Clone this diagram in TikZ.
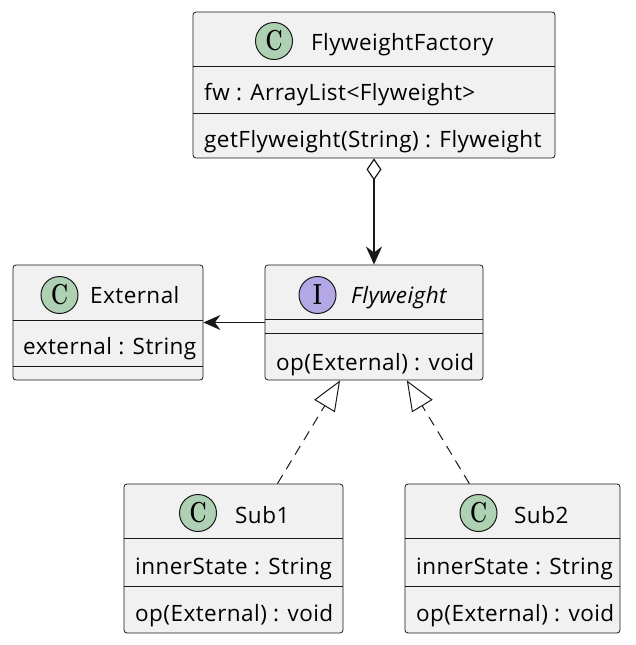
\documentclass[tikz,border=0pt]{standalone}
\usepackage{fontspec}
\newfontfamily\umlfont[LetterSpace=2]{Open Sans}
\usetikzlibrary{arrows.meta,calc}
\definecolor{umlFill}{RGB}{241,241,241}
\definecolor{umlLine}{RGB}{24,24,24}
\definecolor{umlClass}{RGB}{173,209,178}
\definecolor{umlIface}{RGB}{180,167,229}

\begin{document}
\begin{tikzpicture}[
    x=1pt, y=-1pt,
    cls/.style={
        draw=umlLine, fill=umlFill, line width=0.8pt, rounded corners=3pt, inner sep=0pt
    },
    badge/.style={
        circle, draw=umlLine, line width=1pt, minimum size=37pt, inner sep=0pt,
        font=\rmfamily\bfseries\fontsize{29}{29}\selectfont
    },
    txt/.style={anchor=base west, inner sep=0pt, font=\umlfont\fontsize{22.5}{26}\selectfont},
    sep/.style={draw=umlLine, line width=0.8pt},
    has/.style={{Diamond[fill=white,length=22pt,width=15pt]}-{Stealth[length=18pt,width=16pt]}, line width=1.2pt, draw=umlLine},
    uses/.style={-{Stealth[length=17pt,width=15pt]}, line width=1.2pt, draw=umlLine},
    realize/.style={-{Triangle[fill=white,length=30pt,width=24pt]}, dash pattern=on 10pt off 7pt, line width=1pt, draw=umlLine}
]
    \useasboundingbox (0,0) rectangle (636,645);

    \node[cls, minimum width=362pt, minimum height=146pt] (fac) at (374,85) {};
    \node[badge, fill=umlClass] (facC) at (274,41) {\scalebox{0.72}[1]{C}};
    \node[txt] (facT) at (311,50) {FlyweightFactory};
    \node[txt] (facA) at (204,100) {fw : ArrayList<Flyweight>};
    \node[txt] (facM) at (204,147) {getFlyweight(String) : Flyweight};
    \draw[sep] ([yshift=-55pt]fac.north west) -- ([yshift=-55pt]fac.north east);
    \draw[sep] ([yshift=-102pt]fac.north west) -- ([yshift=-102pt]fac.north east);

    \node[cls, minimum width=190pt, minimum height=115pt] (ext) at (108,322.5) {};
    \node[badge, fill=umlClass] (extC) at (59.5,295) {\scalebox{0.72}[1]{C}};
    \node[txt] (extT) at (90,303) {External};
    \node[txt] (extA) at (23,354) {external : String};
    \draw[sep] ([yshift=-56pt]ext.north west) -- ([yshift=-56pt]ext.north east);
    \draw[sep] ([yshift=-102pt]ext.north west) -- ([yshift=-102pt]ext.north east);

    \node[cls, minimum width=218pt, minimum height=115pt] (fw) at (374,322.5) {};
    \node[badge, fill=umlIface] (fwI) at (317.5,295) {\scalebox{0.72}[1]{I}};
    \node[txt] (fwT) at (351,303) {\itshape Flyweight};
    \node[txt] (fwM) at (276,370) {op(External) : void};
    \draw[sep] ([yshift=-55pt]fw.north west) -- ([yshift=-55pt]fw.north east);
    \draw[sep] ([yshift=-69pt]fw.north west) -- ([yshift=-69pt]fw.north east);

    \node[cls, minimum width=219pt, minimum height=149pt] (sub1) at (233.5,558.5) {};
    \node[badge, fill=umlClass] (sub1C) at (198,513) {\scalebox{0.72}[1]{C}};
    \node[txt] (sub1T) at (235,523) {Sub1};
    \node[txt] (sub1A) at (135,574) {innerState : String};
    \node[txt] (sub1M) at (135,621) {op(External) : void};
    \draw[sep] ([yshift=-55pt]sub1.north west) -- ([yshift=-55pt]sub1.north east);
    \draw[sep] ([yshift=-103pt]sub1.north west) -- ([yshift=-103pt]sub1.north east);

    \node[cls, minimum width=215pt, minimum height=149pt] (sub2) at (512.5,558.5) {};
    \node[badge, fill=umlClass] (sub2C) at (478.5,513) {\scalebox{0.72}[1]{C}};
    \node[txt] (sub2T) at (514,523) {Sub2};
    \node[txt] (sub2A) at (416,574) {innerState : String};
    \node[txt] (sub2M) at (416,621) {op(External) : void};
    \draw[sep] ([yshift=-55pt]sub2.north west) -- ([yshift=-55pt]sub2.north east);
    \draw[sep] ([yshift=-103pt]sub2.north west) -- ([yshift=-103pt]sub2.north east);

    \draw[has] (fac.south) -- (fw.north);
    \draw[uses] (fw.west) -- (ext.east);
    \draw[realize] ($(sub1.north west)!0.70!(sub1.north east)$) -- ($(fw.south west)!0.345!(fw.south east)$);
    \draw[realize] ($(sub2.north west)!0.30!(sub2.north east)$) -- ($(fw.south west)!0.65!(fw.south east)$);
\end{tikzpicture}
\end{document}
